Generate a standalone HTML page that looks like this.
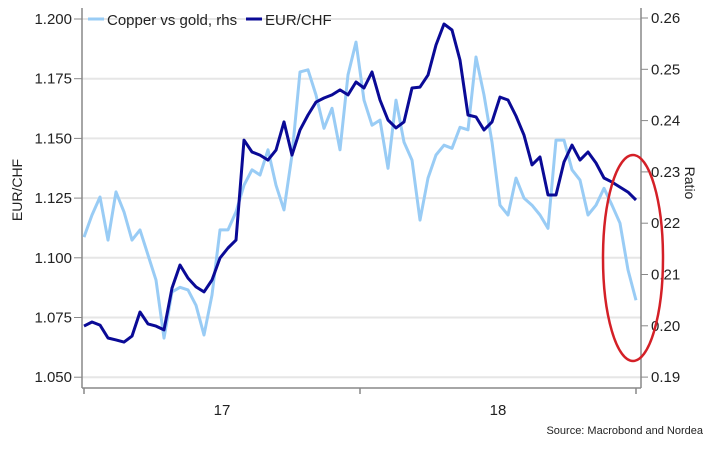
<!DOCTYPE html>
<html><head><meta charset="utf-8"><style>
html,body{margin:0;padding:0;background:#fff;}
svg text{font-family:"Liberation Sans",sans-serif;fill:#222;}
</style></head><body>
<svg id="chart" width="710" height="448" xmlns="http://www.w3.org/2000/svg">
<g id="grid"></g>
<g id="axes"></g>
<g id="series"></g>
<g>
<line x1="88" y1="19" x2="104" y2="19" stroke="#99ccf5" stroke-width="3"/>
<text x="107" y="25" font-size="15">Copper vs gold, rhs</text>
<line x1="246" y1="19" x2="262" y2="19" stroke="#0a0a96" stroke-width="3"/>
<text x="265" y="25" font-size="15">EUR/CHF</text>
</g>
<text transform="translate(22,190) rotate(-90)" text-anchor="middle" font-size="14">EUR/CHF</text>
<text transform="translate(685,183) rotate(90)" text-anchor="middle" font-size="14">Ratio</text>
<text x="703" y="434" text-anchor="end" font-size="11">Source: Macrobond and Nordea</text>
<ellipse cx="633" cy="258" rx="30" ry="103" fill="none" stroke="#d42027" stroke-width="2.5"/>
</svg>
<script>
const xLabels = ["17","18"];
const leftTicks = [1.050,1.075,1.100,1.125,1.150,1.175,1.200];
const rightTicks = [0.19,0.20,0.21,0.22,0.23,0.24,0.25,0.26];
const eurchf = [1.0714,1.0731,1.0718,1.0664,1.0656,1.0647,1.0672,1.0773,1.0723,1.0714,1.0698,1.0873,1.0970,1.0915,1.0878,1.0857,1.0907,1.0999,1.1041,1.1074,1.1493,1.1443,1.1430,1.1409,1.1451,1.1569,1.1430,1.1535,1.1598,1.1652,1.1669,1.1682,1.1703,1.1682,1.1736,1.1711,1.1778,1.1661,1.1577,1.1544,1.1569,1.1711,1.1715,1.1765,1.1891,1.1979,1.1954,1.1828,1.1598,1.1590,1.1535,1.1569,1.1673,1.1661,1.1594,1.1514,1.1389,1.1422,1.1263,1.1263,1.1401,1.1472,1.1409,1.1443,1.1397,1.1334,1.1317,1.1296,1.1275,1.1242];
const copperGold = [0.2173,0.2216,0.2251,0.2167,0.2261,0.2222,0.2167,0.2187,0.2138,0.2089,0.1976,0.2066,0.2075,0.2070,0.2040,0.1982,0.2060,0.2187,0.2187,0.2222,0.2274,0.2304,0.2294,0.2343,0.2274,0.2226,0.2333,0.2495,0.2499,0.2450,0.2385,0.2424,0.2343,0.2489,0.2553,0.2440,0.2391,0.2401,0.2307,0.2440,0.2358,0.2323,0.2206,0.2288,0.2333,0.2352,0.2346,0.2387,0.2382,0.2524,0.2450,0.2358,0.2235,0.2216,0.2288,0.2249,0.2235,0.2216,0.2190,0.2362,0.2362,0.2304,0.2284,0.2216,0.2235,0.2268,0.2235,0.2200,0.2109,0.2050];

const NS="http://www.w3.org/2000/svg";
const X0=84, X1=636, PL=82, PR=641, AXY=388;
function xScale(i,n){return X0+(X1-X0)*i/(n-1);}
function yLeft(v){return 19+(1.2-v)/0.025*59.7;}
function yRight(v){return 18+(0.26-v)/0.01*51.3;}
function mk(tag,attrs,parent){const e=document.createElementNS(NS,tag);for(const k in attrs)e.setAttribute(k,attrs[k]);parent.appendChild(e);return e;}
const grid=document.getElementById('grid'), axes=document.getElementById('axes'), series=document.getElementById('series');

leftTicks.forEach(v=>{
  const y=yLeft(v);
  const g=mk('line',{x1:PL,x2:PR,y1:y,y2:y,stroke:'#e6e6e6','stroke-width':2},grid);
  
  
  const t=mk('line',{x1:74,x2:PL,y1:y,y2:y,stroke:'#888','stroke-width':1},axes);
  
  
  const tx=mk('text',{x:72,y:y+5,'text-anchor':'end','font-size':15},axes);
  tx.textContent=v.toFixed(3);
  
  
});
rightTicks.forEach(v=>{
  const y=yRight(v);
  const t=mk('line',{x1:PR,x2:PR+7,y1:y,y2:y,stroke:'#888','stroke-width':1},axes);
  
  
  const tx=mk('text',{x:651,y:y+5,'font-size':15},axes);
  tx.textContent=v.toFixed(2);
  
  
});
const la=mk('line',{x1:PL,x2:PL,y1:8,y2:AXY,stroke:'#888','stroke-width':1.5},axes);


const ra=mk('line',{x1:PR,x2:PR,y1:8,y2:AXY,stroke:'#888','stroke-width':1.5},axes);


const xa=mk('line',{x1:PL,x2:PR,y1:AXY,y2:AXY,stroke:'#888','stroke-width':1.5},axes);


[0,0.5,1].forEach(f=>{
  const x=X0+(X1-X0)*f;
  const t=mk('line',{x1:x,x2:x,y1:AXY,y2:AXY+6,stroke:'#888','stroke-width':1.5},axes);
  
  
});
xLabels.forEach((l,i)=>{
  const x=X0+(X1-X0)*(0.25+0.5*i);
  const tx=mk('text',{x:x,y:415,'text-anchor':'middle','font-size':15},axes);
  tx.textContent=l;
  
  
});
function line(data,ys,color,name){
  const d=data.map((v,i)=>(i?'L':'M')+xScale(i,data.length).toFixed(1)+','+ys(v).toFixed(1)).join('');
  const p=mk('path',{d:d,fill:'none',stroke:color,'stroke-width':3,'stroke-linejoin':'round'},series);
  
  
}
line(copperGold,yRight,'#99ccf5','copper-gold-line');
line(eurchf,yLeft,'#0a0a96','eurchf-line');
</script>
</body></html>
